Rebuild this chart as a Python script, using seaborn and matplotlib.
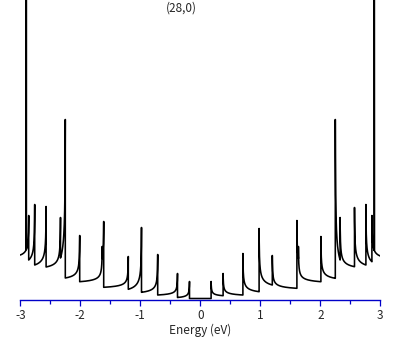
import numpy as np
import pandas as pd
import matplotlib
matplotlib.use("Agg")
import matplotlib.pyplot as plt
import seaborn as sns

# |E| of the van Hove singularities (eV)
vhs_energy = [0.18, 0.38, 0.71, 0.98, 1.20, 1.61, 1.635, 2.01, 2.25, 2.33, 2.57, 2.76, 2.86]
flat_band = 2.90      # the off-scale line near +-2.9 eV
flat_top = 3.5

# peak height at each singularity and the level reached just before the next one
# (last entry: level at |E| = 3), arbitrary units
peak_pos = [0.17, 0.25, 0.45, 0.70, 0.43, 0.78, 0.52, 0.62, 1.79, 0.81, 0.91, 0.94, 0.83]
floor_pos = [0.028, 0.035, 0.068, 0.135, 0.102, 0.40, 0.168, 0.202, 0.385, 0.318, 0.335, 0.368, 0.425]
peak_neg = [0.17, 0.25, 0.44, 0.71, 0.42, 0.77, 0.52, 0.63, 1.79, 0.81, 0.92, 0.94, 0.83]
floor_neg = [0.01, 0.035, 0.062, 0.092, 0.112, 0.40, 0.168, 0.205, 0.405, 0.315, 0.335, 0.385, 0.435]

title = "(28,0)"
xticks = [-3, -2, -1, 0, 1, 2, 3]
xlabel = "Energy (eV)"

w = 0.003


def branch(peaks, floors):
    xs, ys = [0.0], [0.0]
    ends = vhs_energy[1:] + [3.0]
    for e0, e1, pk, fl in zip(vhs_energy, ends, peaks, floors):
        off = (e1 - e0) * np.linspace(0, 1, 300) ** 2
        s = np.sqrt(w / (off + w))
        y = fl + (pk - fl) * (s - s[-1]) / (1 - s[-1])
        xs += [e0] + list(e0 + off)
        ys += [ys[-1]] + list(y)
    xs, ys = np.array(xs), np.array(ys)
    # flat band: a vertical line
    i = np.searchsorted(xs, flat_band)
    yb = np.interp(flat_band, xs, ys)
    xs = np.concatenate([xs[:i], [flat_band] * 3, xs[i:]])
    ys = np.concatenate([ys[:i], [yb, flat_top, yb], ys[i:]])
    return xs, ys


xp, yp = branch(peak_pos, floor_pos)
xn, yn = branch(peak_neg, floor_neg)
df = pd.DataFrame({"energy": np.concatenate([-xn[::-1], xp]),
                   "dos": np.concatenate([yn[::-1], yp])})

sns.set_style("white")
plt.rcParams["font.family"] = ["Noto Sans CJK JP", "DejaVu Sans"]
plt.rcParams["axes.unicode_minus"] = False

blue = "#0000c8"
fig = plt.figure(figsize=(4.09, 3.45), dpi=100)
ax = fig.add_axes([20.3 / 409, 45 / 345, 360 / 409, 300 / 345])
sns.lineplot(data=df, x="energy", y="dos", sort=False, estimator=None,
             color="black", linewidth=1.15, ax=ax)
ax.set_xlim(-3, 3)
ax.set_ylim(-0.015, 2.985)
for side in ["left", "right", "top"]:
    ax.spines[side].set_visible(False)
ax.spines["bottom"].set_color(blue)
ax.spines["bottom"].set_linewidth(1.0)
ax.set_yticks([])
ax.set_ylabel("")
ax.set_xticks(xticks)
ax.set_xticks(np.arange(-2.5, 3, 1.0), minor=True)
ax.tick_params(axis="x", which="major", direction="out", length=4.3, width=0.9,
               color=blue, labelsize=8.5, pad=2.5, bottom=True)
ax.tick_params(axis="x", which="minor", direction="out", length=3.0, width=0.9,
               color=blue, bottom=True)
ax.set_xlabel(xlabel, fontsize=8.5, labelpad=1)
fig.text(181 / 409, 1 - 8 / 345, title, ha="center", va="center", fontsize=8.5)

fig.savefig("out.png", dpi=100)
